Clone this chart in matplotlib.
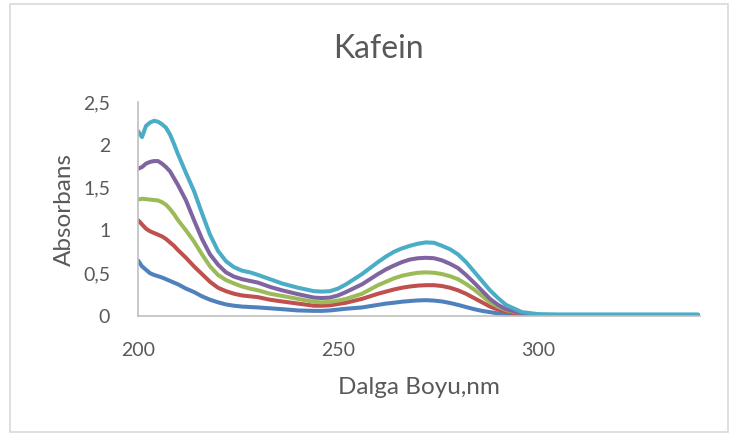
import matplotlib
matplotlib.use("Agg")
import matplotlib.pyplot as plt
from matplotlib.ticker import FuncFormatter
from matplotlib.patches import Rectangle

# wavelength grid (nm) and absorbance of the five series
wavelength = [200, 201, 202, 203, 204, 205, 206, 207, 208, 209, 210,
              212, 214, 216, 218, 220, 222, 224, 226, 228, 230,
              233, 236, 240, 244, 246, 248, 250, 252, 256, 260,
              262, 264, 266, 268, 270, 272, 274, 276, 278, 280,
              282, 284, 286, 288, 290, 292, 296, 300,
              305, 310, 320, 330, 340]

blue = [0.65, 0.58, 0.54, 0.50, 0.48, 0.465, 0.45, 0.43, 0.41, 0.39, 0.37,
        0.32, 0.28, 0.23, 0.19, 0.16, 0.135, 0.12, 0.11, 0.105, 0.10,
        0.09, 0.08, 0.065, 0.06, 0.06, 0.065, 0.075, 0.085, 0.10, 0.13,
        0.145, 0.155, 0.167, 0.175, 0.182, 0.185, 0.18, 0.17, 0.152, 0.13,
        0.105, 0.08, 0.06, 0.045, 0.03, 0.02, 0.01, 0.006,
        0.005, 0.005, 0.005, 0.005, 0.005]

red = [1.12, 1.07, 1.02, 0.99, 0.97, 0.95, 0.93, 0.90, 0.86, 0.82, 0.77,
       0.68, 0.58, 0.49, 0.40, 0.33, 0.29, 0.26, 0.24, 0.23, 0.22,
       0.19, 0.17, 0.145, 0.12, 0.12, 0.125, 0.14, 0.155, 0.20, 0.26,
       0.285, 0.31, 0.33, 0.345, 0.355, 0.36, 0.36, 0.35, 0.33, 0.30,
       0.26, 0.21, 0.16, 0.11, 0.075, 0.05, 0.02, 0.01,
       0.008, 0.008, 0.008, 0.008, 0.008]

green = [1.36, 1.37, 1.365, 1.36, 1.355, 1.35, 1.33, 1.30, 1.25, 1.19, 1.12,
         1.00, 0.87, 0.72, 0.58, 0.48, 0.42, 0.38, 0.345, 0.32, 0.30,
         0.26, 0.235, 0.20, 0.165, 0.16, 0.165, 0.18, 0.20, 0.26, 0.36,
         0.40, 0.44, 0.47, 0.49, 0.505, 0.51, 0.505, 0.49, 0.465, 0.43,
         0.375, 0.31, 0.235, 0.16, 0.11, 0.07, 0.03, 0.012,
         0.01, 0.01, 0.01, 0.01, 0.01]

purple = [1.72, 1.74, 1.78, 1.80, 1.81, 1.81, 1.78, 1.74, 1.69, 1.61, 1.53,
          1.35, 1.12, 0.90, 0.72, 0.60, 0.51, 0.46, 0.43, 0.41, 0.39,
          0.34, 0.30, 0.255, 0.215, 0.21, 0.215, 0.24, 0.28, 0.37, 0.49,
          0.545, 0.59, 0.63, 0.66, 0.675, 0.68, 0.675, 0.65, 0.61, 0.56,
          0.48, 0.39, 0.295, 0.20, 0.13, 0.08, 0.03, 0.012,
          0.01, 0.01, 0.01, 0.01, 0.01]

cyan = [2.16, 2.09, 2.22, 2.26, 2.28, 2.27, 2.24, 2.20, 2.12, 2.01, 1.89,
        1.67, 1.46, 1.20, 0.95, 0.76, 0.64, 0.57, 0.53, 0.51, 0.48,
        0.43, 0.38, 0.33, 0.29, 0.285, 0.29, 0.32, 0.37, 0.49, 0.63,
        0.695, 0.75, 0.79, 0.82, 0.845, 0.86, 0.855, 0.82, 0.78, 0.72,
        0.63, 0.52, 0.41, 0.30, 0.21, 0.13, 0.045, 0.022,
        0.018, 0.018, 0.018, 0.018, 0.018]

series = [blue, red, green, purple, cyan]
colors = ['#4F81BD', '#C0504D', '#9BBB59', '#8064A2', '#4BACC6']

x_ticks = [200, 250, 300]
y_ticks = [0, 0.5, 1, 1.5, 2, 2.5]

plt.rcParams['font.family'] = ['Lato', 'DejaVu Sans']
text_col = '#595959'
W, H = 734, 436

fig = plt.figure(figsize=(W / 100, H / 100), dpi=100)
ax = fig.add_axes([138 / W, 1 - 316 / H, 562 / W, 214 / H])

for vals, c in zip(series, colors):
    ax.plot(wavelength, vals, color=c, lw=2.9, solid_capstyle='round',
            solid_joinstyle='round')

ax.set_xlim(200, 340.5)
ax.set_ylim(0, 2.5)
ax.set_xticks(x_ticks)
ax.set_yticks(y_ticks)
ax.yaxis.set_major_formatter(FuncFormatter(lambda v, p: f'{v:g}'.replace('.', ',')))
ax.tick_params(length=0, labelsize=14, colors=text_col)
ax.tick_params(axis='x', pad=19)
ax.tick_params(axis='y', pad=20)

for s in ['top', 'right']:
    ax.spines[s].set_visible(False)
for s in ['left', 'bottom']:
    ax.spines[s].set_color('#BFBFBF')
    ax.spines[s].set_linewidth(1.2)

ax.set_xlabel('Dalga Boyu,nm', fontsize=17.5, color=text_col, va='center')
ax.xaxis.set_label_coords(0.5, (316 - 387) / 214)
ax.set_ylabel('Absorbans', fontsize=17.5, color=text_col, va='center')
ax.yaxis.set_label_coords((64 - 138) / 562, 0.5)

fig.text(378 / W, 1 - 49 / H, 'Kafein', ha='center', va='center',
         fontsize=23, color=text_col)

# chart area border
fig.patches.append(Rectangle((10 / W, 4 / H), 718 / W, 428 / H,
                             transform=fig.transFigure, fill=False,
                             edgecolor='#D9D9D9', lw=1.2))

fig.savefig('out.png', dpi=100)
